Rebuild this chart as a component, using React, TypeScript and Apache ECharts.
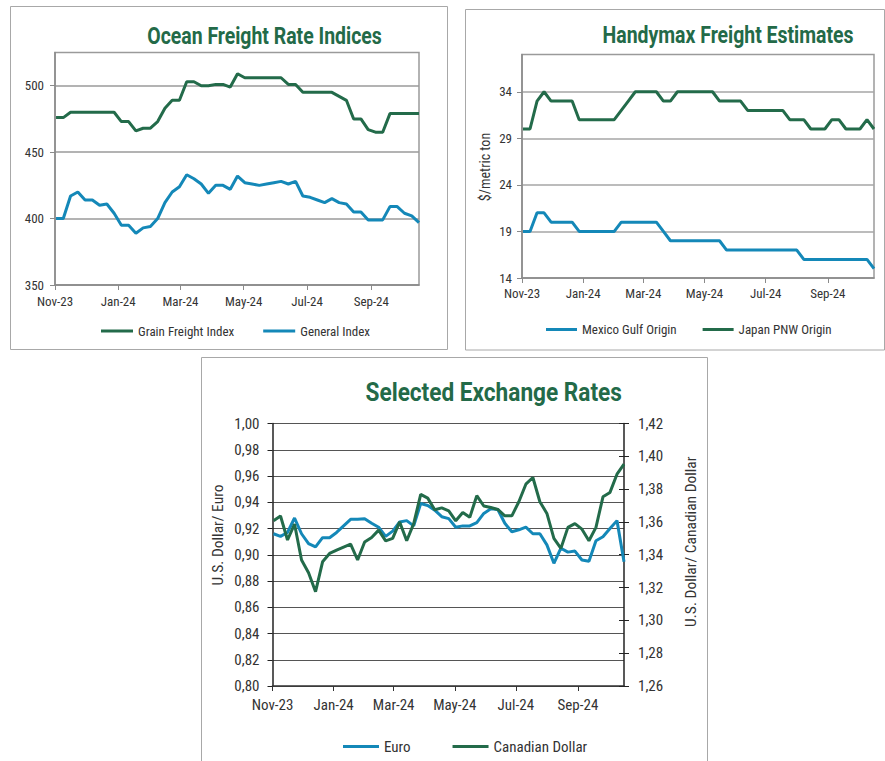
import React, { useEffect, useRef } from 'react';
import * as echarts from 'echarts';

// ---------- data ----------
const weekDates = [
  '2023-11-02', '2023-11-09', '2023-11-16', '2023-11-23', '2023-11-30',
  '2023-12-07', '2023-12-14', '2023-12-21', '2023-12-28',
  '2024-01-04', '2024-01-11', '2024-01-18', '2024-01-25',
  '2024-02-01', '2024-02-08', '2024-02-15', '2024-02-22', '2024-02-29',
  '2024-03-07', '2024-03-14', '2024-03-21', '2024-03-28',
  '2024-04-04', '2024-04-11', '2024-04-18', '2024-04-25',
  '2024-05-02', '2024-05-09', '2024-05-16', '2024-05-23', '2024-05-30',
  '2024-06-06', '2024-06-13', '2024-06-20', '2024-06-27',
  '2024-07-04', '2024-07-11', '2024-07-18', '2024-07-25',
  '2024-08-01', '2024-08-08', '2024-08-15', '2024-08-22', '2024-08-29',
  '2024-09-05', '2024-09-12', '2024-09-19', '2024-09-26',
  '2024-10-03', '2024-10-10', '2024-10-17',
];

const grainFreightIndex = [
  476, 476, 480, 480, 480, 480, 480, 480, 480, 473, 473, 466, 468, 468, 473, 483, 489,
  489, 503, 503, 500, 500, 501, 501, 499, 509, 506, 506, 506, 506, 506, 506, 501, 501,
  495, 495, 495, 495, 495, 492, 489, 475, 475, 467, 465, 465, 479, 479, 479, 479, 479,
];
const generalIndex = [
  400, 400, 417, 420, 414, 414, 410, 411, 404, 395, 395, 389, 393, 394, 400, 412, 420,
  424, 433, 430, 426, 419, 425, 425, 422, 432, 427, 426, 425, 426, 427, 428, 426, 428,
  417, 416, 414, 412, 415, 412, 411, 405, 405, 399, 399, 399, 409, 409, 404, 402, 397,
];

const mexicoGulfOrigin = [
  19, 19, 21, 21, 20, 20, 20, 20, 19, 19, 19, 19, 19, 19, 20, 20, 20,
  20, 20, 20, 19, 18, 18, 18, 18, 18, 18, 18, 18, 17, 17, 17, 17, 17,
  17, 17, 17, 17, 17, 17, 16, 16, 16, 16, 16, 16, 16, 16, 16, 16, 15,
];
const japanPnwOrigin = [
  30, 30, 33, 34, 33, 33, 33, 33, 31, 31, 31, 31, 31, 31, 32, 33, 34,
  34, 34, 34, 33, 33, 34, 34, 34, 34, 34, 34, 33, 33, 33, 33, 32, 32,
  32, 32, 32, 32, 31, 31, 31, 30, 30, 30, 31, 31, 30, 30, 30, 31, 30,
];

const euroRate = [
  0.916, 0.914, 0.917, 0.928, 0.916, 0.9085, 0.906, 0.913, 0.913, 0.917, 0.922, 0.927, 0.927,
  0.9275, 0.924, 0.921, 0.914, 0.918, 0.925, 0.926, 0.922, 0.939, 0.9375, 0.934, 0.929, 0.9275,
  0.921, 0.922, 0.922, 0.9245, 0.9315, 0.935, 0.9345, 0.924, 0.9175, 0.919, 0.921, 0.916, 0.916,
  0.9075, 0.8935, 0.905, 0.902, 0.9028, 0.896, 0.895, 0.9107, 0.9137, 0.92, 0.926, 0.8947,
];
const canadianDollarRate = [
  1.3607, 1.3636, 1.349, 1.3587, 1.3368, 1.329, 1.3175, 1.3357, 1.3408, 1.3428, 1.3447, 1.3465, 1.3368,
  1.3478, 1.3505, 1.355, 1.3485, 1.35, 1.36, 1.3485, 1.359, 1.3768, 1.3745, 1.3674, 1.3686, 1.3668,
  1.3607, 1.3658, 1.3628, 1.376, 1.3697, 1.3688, 1.3676, 1.3637, 1.3637, 1.3723, 1.383, 1.3871, 1.3723,
  1.3652, 1.35, 1.3439, 1.3567, 1.359, 1.3556, 1.3485, 1.3567, 1.3753, 1.378, 1.3891, 1.3952,
];

const monthTickDates = ['2023-11-01', '2024-01-01', '2024-03-01', '2024-05-01', '2024-07-01', '2024-09-01'];
const axisStartDate = '2023-11-01';
const axisEndDate = '2024-10-17';
const oceanYTicks = [350, 400, 450, 500];
const handyYTicks = [14, 19, 24, 29, 34];
const MONTHS = ['Jan', 'Feb', 'Mar', 'Apr', 'May', 'Jun', 'Jul', 'Aug', 'Sep', 'Oct', 'Nov', 'Dec'];

// ---------- helpers ----------
const toTs = (s: string) => {
  const [y, m, d] = s.split('-').map(Number);
  return Date.UTC(y, m - 1, d);
};
const ts = weekDates.map(toTs);
const tickTs = monthTickDates.map(toTs);
const pair = (vals: number[]) => ts.map((t, i) => [t, vals[i]]);
const monthFmt = (v: number) => {
  const d = new Date(v);
  return MONTHS[d.getUTCMonth()] + '-' + String(d.getUTCFullYear()).slice(2);
};
const comma = (v: number) => v.toFixed(2).replace('.', ',');

const GREEN = '#236b4a';
const BLUE = '#1488b8';
const TITLE_GREEN = '#236a48';
const NARROW = "'Liberation Sans Narrow', 'Roboto Condensed', Roboto, sans-serif";
const TXT = '#333333';

// x axes: dates as UTC timestamps on a value scale, month ticks at given dates
function xAxis(gridIndex: number, fontSize: number, margin: number, color: string) {
  return {
    type: 'value',
    gridIndex,
    min: toTs(axisStartDate),
    max: toTs(axisEndDate),
    axisLine: { show: true, onZero: false, lineStyle: { color, width: 1.5 } },
    axisTick: { show: true, length: 5, customValues: tickTs, lineStyle: { color, width: 1 } },
    axisLabel: {
      customValues: tickTs,
      formatter: monthFmt,
      fontSize,
      color: TXT,
      fontFamily: NARROW,
      margin,
      hideOverlap: false,
    },
    splitLine: { show: false },
  };
}

export default function App() {
  const ref = useRef<HTMLDivElement>(null);

  useEffect(() => {
    if (!ref.current) return;
    const chart = echarts.init(ref.current, undefined, { renderer: 'svg' });

    const option: any = {
      animation: false,
      backgroundColor: '#ffffff',
      grid: [
        { left: 55, top: 52.5, width: 364, height: 232.5, show: true, borderColor: '#9a9a9a', borderWidth: 1.5 },
        { left: 522, top: 54.5, width: 352, height: 223.5, show: true, borderColor: '#9a9a9a', borderWidth: 1.5 },
        { left: 272.5, top: 423.5, width: 351.5, height: 262.5, show: false },
      ],
      xAxis: [
        xAxis(0, 13, 10, '#8a8a8a'),
        xAxis(1, 13, 9, '#8a8a8a'),
        xAxis(2, 15, 11, '#333333'),
      ],
      yAxis: [
        {
          type: 'value', gridIndex: 0, min: 350, max: 525,
          axisLine: { show: true, lineStyle: { color: '#8a8a8a', width: 1.5 } },
          axisTick: { show: true, length: 5, customValues: oceanYTicks, lineStyle: { color: '#8a8a8a' } },
          axisLabel: { customValues: oceanYTicks, fontSize: 13, color: TXT, fontFamily: NARROW, margin: 11 },
          splitLine: { show: true, lineStyle: { color: '#9a9a9a', width: 1.5 } },
        },
        {
          type: 'value', gridIndex: 1, min: 14, max: 38,
          axisLine: { show: true, lineStyle: { color: '#8a8a8a', width: 1.5 } },
          axisTick: { show: true, length: 5, customValues: handyYTicks, lineStyle: { color: '#8a8a8a' } },
          axisLabel: { customValues: handyYTicks, fontSize: 13, color: TXT, fontFamily: NARROW, margin: 10 },
          splitLine: { show: true, lineStyle: { color: '#a6a6a6', width: 1.5 } },
        },
        {
          type: 'value', gridIndex: 2, min: 0.8, max: 1.0, interval: 0.02, position: 'left',
          axisLine: { show: true, lineStyle: { color: '#222222', width: 1.5 } },
          axisTick: { show: true, length: 5, lineStyle: { color: '#222222' } },
          axisLabel: { formatter: comma, fontSize: 15, color: TXT, fontFamily: NARROW, margin: 13 },
          splitLine: { show: true, lineStyle: { color: '#555555', width: 1 } },
        },
        {
          type: 'value', gridIndex: 2, min: 1.26, max: 1.42, interval: 0.02, position: 'right',
          axisLine: { show: true, lineStyle: { color: '#222222', width: 1.5 } },
          axisTick: { show: true, length: 5, lineStyle: { color: '#222222' } },
          axisLabel: { formatter: comma, fontSize: 15, color: TXT, fontFamily: NARROW, margin: 14 },
          splitLine: { show: false },
        },
        {
          type: 'value', gridIndex: 2, min: 1.26, max: 1.42, interval: 0.02, position: 'right',
          axisLine: { show: false },
          axisTick: { show: true, inside: true, length: 5, lineStyle: { color: '#222222' } },
          axisLabel: { show: false },
          splitLine: { show: false },
        },
      ],
      legend: [
        {
          data: ['Grain Freight Index', 'General Index'],
          left: 101, top: 324.5, padding: 0, itemWidth: 32, itemHeight: 3, itemGap: 29, icon: 'rect',
          textStyle: { fontSize: 13, color: TXT, fontFamily: NARROW },
        },
        {
          data: ['Mexico Gulf Origin', 'Japan PNW Origin'],
          left: 546, top: 323, padding: 0, itemWidth: 31, itemHeight: 3, itemGap: 26, icon: 'rect',
          textStyle: { fontSize: 13, color: TXT, fontFamily: NARROW },
        },
        {
          data: ['Euro', 'Canadian Dollar'],
          left: 343, top: 739, padding: 0, itemWidth: 36, itemHeight: 3, itemGap: 42, icon: 'rect',
          textStyle: { fontSize: 15, color: TXT, fontFamily: NARROW },
        },
      ],
      series: [
        { name: 'Grain Freight Index', type: 'line', xAxisIndex: 0, yAxisIndex: 0, data: pair(grainFreightIndex), showSymbol: false, symbol: 'none', lineStyle: { width: 3, color: GREEN }, itemStyle: { color: GREEN } },
        { name: 'General Index', type: 'line', xAxisIndex: 0, yAxisIndex: 0, data: pair(generalIndex), showSymbol: false, symbol: 'none', lineStyle: { width: 3, color: BLUE }, itemStyle: { color: BLUE } },
        { name: 'Mexico Gulf Origin', type: 'line', xAxisIndex: 1, yAxisIndex: 1, data: pair(mexicoGulfOrigin), showSymbol: false, symbol: 'none', lineStyle: { width: 3, color: BLUE }, itemStyle: { color: BLUE } },
        { name: 'Japan PNW Origin', type: 'line', xAxisIndex: 1, yAxisIndex: 1, data: pair(japanPnwOrigin), showSymbol: false, symbol: 'none', lineStyle: { width: 3, color: GREEN }, itemStyle: { color: GREEN } },
        { name: 'Euro', type: 'line', xAxisIndex: 2, yAxisIndex: 2, data: pair(euroRate), showSymbol: false, symbol: 'none', lineStyle: { width: 3, color: BLUE }, itemStyle: { color: BLUE } },
        { name: 'Canadian Dollar', type: 'line', xAxisIndex: 2, yAxisIndex: 3, data: pair(canadianDollarRate), showSymbol: false, symbol: 'none', lineStyle: { width: 3, color: GREEN }, itemStyle: { color: GREEN } },
      ],
      graphic: [
        { type: 'rect', silent: true, z: -10, shape: { x: 10.5, y: 6.5, width: 437, height: 343 }, style: { fill: 'none', stroke: '#a8a8a8', lineWidth: 1 } },
        { type: 'rect', silent: true, z: -10, shape: { x: 465.5, y: 9.5, width: 419, height: 340.5 }, style: { fill: 'none', stroke: '#a8a8a8', lineWidth: 1 } },
        { type: 'rect', silent: true, z: -10, shape: { x: 201.5, y: 357.5, width: 506, height: 420 }, style: { fill: 'none', stroke: '#a8a8a8', lineWidth: 1 } },
        { type: 'text', x: 264.5, y: 35.5, scaleX: 0.845, style: { text: 'Ocean Freight Rate Indices', fontSize: 23, fontWeight: 'bold', fontFamily: 'Roboto', fill: TITLE_GREEN, align: 'center', verticalAlign: 'middle' } },
        { type: 'text', x: 728, y: 34.5, scaleX: 0.845, style: { text: 'Handymax Freight Estimates', fontSize: 23, fontWeight: 'bold', fontFamily: 'Roboto', fill: TITLE_GREEN, align: 'center', verticalAlign: 'middle' } },
        { type: 'text', x: 493.7, y: 391.5, scaleX: 0.87, style: { text: 'Selected Exchange Rates', fontSize: 26, fontWeight: 'bold', fontFamily: 'Roboto', fill: TITLE_GREEN, align: 'center', verticalAlign: 'middle' } },
        { type: 'text', x: 485, y: 167, rotation: Math.PI / 2, style: { text: '$/metric ton', fontSize: 14, fontFamily: NARROW, fill: TXT, align: 'center', verticalAlign: 'middle' } },
        { type: 'text', x: 217.7, y: 535, rotation: Math.PI / 2, style: { text: 'U.S. Dollar/ Euro', fontSize: 15.5, fontFamily: NARROW, fill: TXT, align: 'center', verticalAlign: 'middle' } },
        { type: 'text', x: 690.7, y: 541.7, rotation: Math.PI / 2, style: { text: 'U.S. Dollar/ Canadian Dollar', fontSize: 15.5, fontFamily: NARROW, fill: TXT, align: 'center', verticalAlign: 'middle' } },
      ],
    };

    chart.setOption(option);
    return () => chart.dispose();
  }, []);

  return (
    <div
      ref={ref}
      style={{ position: 'absolute', left: 0, top: 0, width: 885, height: 761, background: '#ffffff' }}
    />
  );
}
